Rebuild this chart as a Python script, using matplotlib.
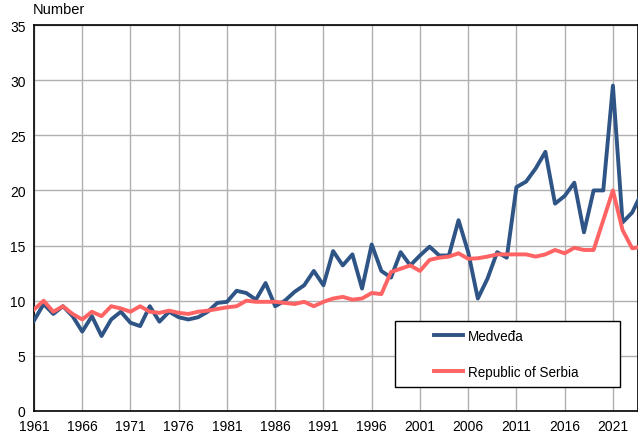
import matplotlib.pyplot as plt
from matplotlib.patches import Rectangle
import numpy as np

plt.rcParams['font.family'] = ['Liberation Sans', 'DejaVu Sans']
plt.rcParams['font.size'] = 10

years = list(range(1961, 2025))

medveda = [8.2, 9.7, 8.8, 9.5, 8.6, 7.2, 8.6, 6.8, 8.3, 9.0,
           8.0, 7.7, 9.5, 8.1, 9.0, 8.5, 8.3, 8.5, 9.0, 9.8,
           9.9, 10.9, 10.7, 10.1, 11.6, 9.5, 10.0, 10.8, 11.4, 12.7,
           11.4, 14.5, 13.2, 14.2, 11.1, 15.1, 12.7, 12.1, 14.4, 13.2,
           14.1, 14.9, 14.1, 14.1, 17.3, 14.4, 10.2, 12.0, 14.4, 13.9,
           20.3, 20.8, 22.0, 23.5, 18.8, 19.5, 20.7, 16.2, 20.0, 20.0,
           29.5, 17.1, 18.0, 19.8]

serbia = [9.2, 10.0, 9.0, 9.5, 8.8, 8.3, 9.0, 8.6, 9.5, 9.3,
          9.0, 9.5, 9.0, 8.9, 9.1, 8.9, 8.8, 9.0, 9.1, 9.25,
          9.4, 9.5, 10.0, 9.9, 9.9, 9.9, 9.8, 9.7, 9.9, 9.5,
          9.9, 10.2, 10.35, 10.1, 10.2, 10.7, 10.6, 12.6, 12.9, 13.2,
          12.7, 13.7, 13.9, 14.0, 14.3, 13.8, 13.85, 14.0, 14.2, 14.2,
          14.2, 14.2, 14.0, 14.2, 14.6, 14.3, 14.8, 14.6, 14.6, 17.3,
          20.0, 16.4, 14.75, 14.9]

fig = plt.figure(figsize=(6.38, 4.35), dpi=100)
ax = fig.add_axes([34 / 638, 1 - 412 / 435, 604 / 638, 386 / 435])

ax.plot(years, medveda, color='#2F5486', lw=2.8, label='Medveđa', zorder=3)
ax.plot(years, serbia, color='#FF6363', lw=2.8, label='Republic of Serbia', zorder=3)

ax.set_xlim(1961, 2023.6)
ax.set_ylim(0, 35)
ax.set_yticks(np.arange(0, 36, 5))
ax.set_xticks(np.arange(1961, 2022, 5))
ax.grid(True, color='#b0b0b0', lw=1.0)
ax.set_axisbelow(True)
ax.tick_params(length=0, pad=6)
for s in ax.spines.values():
    s.set_color('black')
    s.set_linewidth(1.2)

fig.text(33 / 638, 1 - 10 / 435, 'Number', ha='left', va='center', fontsize=10.5)

# legend box drawn by hand, entries placed inside it
ax.add_patch(Rectangle((0.598, 0.062), 0.372, 0.171, transform=ax.transAxes,
                       facecolor='white', edgecolor='black', lw=1.0, zorder=4))
leg = ax.legend(loc='center left', bbox_to_anchor=(0.662, 0.148),
                frameon=False, fontsize=9.75, handlelength=2.15,
                handletextpad=0.37, labelspacing=1.6, borderpad=0,
                borderaxespad=0)
leg.set_zorder(5)

fig.savefig('out.png', dpi=100)
